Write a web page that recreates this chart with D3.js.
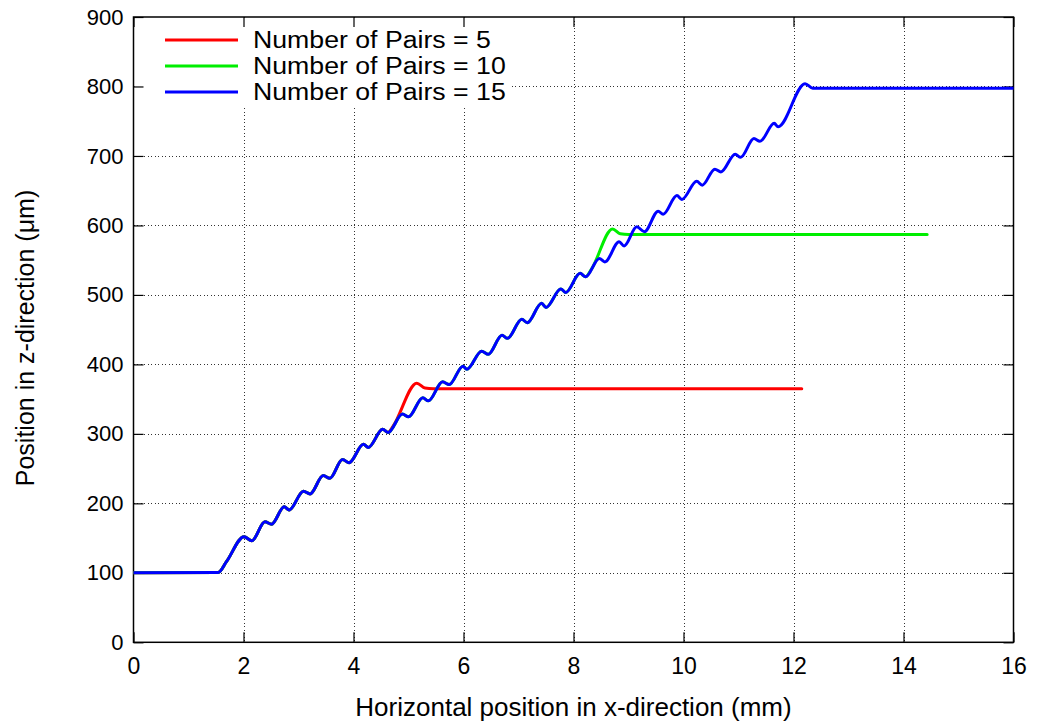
<!DOCTYPE html>
<html>
<head>
<meta charset="utf-8">
<script src="https://cdn.jsdelivr.net/npm/d3@7/dist/d3.min.js"></script>
<style>
  html, body { margin: 0; padding: 0; background: #fff; }
  svg { display: block; font-family: "Liberation Sans", Arial, Helvetica, sans-serif; }
</style>
</head>
<body>
<svg id="chart" width="1037" height="723"></svg>
<script>
// ---- data ----
const xTicks = [0, 2, 4, 6, 8, 10, 12, 14, 16];
const yTicks = [0, 100, 200, 300, 400, 500, 600, 700, 800, 900];
const seriesNames = ["Number of Pairs = 5", "Number of Pairs = 10", "Number of Pairs = 15"];
const seriesColors = ["#ff0000", "#00ee00", "#0000ff"];

const pairs5 = [
  [0,100],[1.54,100.5],[1.69,116],[2.01,152],[2.15,146],[2.39,173.5],[2.51,170],
  [2.74,195],[2.83,190.5],[3.09,217.5],[3.21,213.5],[3.45,240],[3.57,236],
  [3.80,263],[3.92,258.5],[4.18,285],[4.27,280.5],[4.53,306.5],[4.63,302],
  [4.72,311],[5.15,373],[5.30,366],[5.45,365],[8.0,365],[12.15,365]
];
const pairs10 = [
  [0,100],[1.54,100.5],[1.69,116],[2.01,152],[2.15,146],[2.39,173.5],[2.51,170],
  [2.74,195],[2.83,190.5],[3.09,217.5],[3.21,213.5],[3.45,240],[3.57,236],
  [3.80,263],[3.92,258.5],[4.18,285],[4.27,280.5],[4.53,306.5],[4.63,302],
  [4.89,328.5],[5.00,324.5],[5.26,352],[5.36,347.5],[5.62,375],[5.74,371],
  [5.99,397.5],[6.06,393],[6.33,419],[6.45,414.5],[6.70,442],[6.80,437.5],
  [7.06,465],[7.16,460],[7.42,488],[7.50,482],[7.77,508.5],[7.86,503.5],
  [8.12,531],[8.22,526],[8.33,537.5],[8.71,595],[8.85,588],[9.0,587],[14.43,587]
];
const pairs15 = [
  [0,100],[1.54,100.5],[1.69,116],[2.01,152],[2.15,146],[2.39,173.5],[2.51,170],
  [2.74,195],[2.83,190.5],[3.09,217.5],[3.21,213.5],[3.45,240],[3.57,236],
  [3.80,263],[3.92,258.5],[4.18,285],[4.27,280.5],[4.53,306.5],[4.63,302],
  [4.89,328.5],[5.00,324.5],[5.26,352],[5.36,347.5],[5.62,375],[5.74,371],
  [5.99,397.5],[6.06,393],[6.33,419],[6.45,414.5],[6.70,442],[6.80,437.5],
  [7.06,465],[7.16,460],[7.42,488],[7.50,482],[7.77,508.5],[7.86,503.5],
  [8.12,531],[8.22,526],[8.47,552.5],[8.57,547.5],[8.83,576.5],[8.92,570.5],
  [9.15,598],[9.29,591],[9.54,620.5],[9.63,616],[9.88,643],[9.97,637.5],
  [10.24,663.5],[10.34,658],[10.57,681],[10.68,677],[10.94,702.5],[11.04,698],
  [11.28,725],[11.39,721],[11.65,747],[11.72,742],[12.21,804],[12.35,797.5],[16.0,797.5]
];
const seriesData = [pairs5, pairs10, pairs15];

// ---- layout ----
const svg = d3.select("#chart");
const pLeft = 133.5, pRight = 1013.5, pTop = 17, pBottom = 642.3;
const x = d3.scaleLinear().domain([0, 16]).range([pLeft, pRight]);
const y = d3.scaleLinear().domain([0, 900]).range([pBottom, pTop]);
const xTickFont = 23, yTickFont = 22, legendFont = 23, titleFont = 26;

// grid
const grid = svg.append("g").attr("stroke", "#333").attr("stroke-width", 1)
  .attr("stroke-dasharray", "1,2.5").attr("shape-rendering", "crispEdges");
grid.selectAll("line.v").data(xTicks.slice(1, -1)).join("line")
  .attr("x1", d => Math.round(x(d)) + 0.5).attr("x2", d => Math.round(x(d)) + 0.5)
  .attr("y1", pTop).attr("y2", pBottom);
grid.selectAll("line.h").data(yTicks.slice(1, -1)).join("line")
  .attr("y1", d => Math.round(y(d)) + 0.5).attr("y2", d => Math.round(y(d)) + 0.5)
  .attr("x1", pLeft).attr("x2", pRight);

// legend background (covers grid)
svg.append("rect").attr("x", pLeft + 1).attr("y", pTop + 1).attr("width", 376).attr("height", 88).attr("fill", "#fff");

// axes with inward ticks
const tickLen = 10;
const axB = svg.append("g").attr("transform", `translate(0,${pBottom})`)
  .call(d3.axisBottom(x).tickValues(xTicks).tickSize(-tickLen).tickPadding(15.5).tickFormat(d3.format("d")));
const axT = svg.append("g").attr("transform", `translate(0,${pTop})`)
  .call(d3.axisTop(x).tickValues(xTicks).tickSize(-tickLen).tickFormat(""));
const axL = svg.append("g").attr("transform", `translate(${pLeft},0)`)
  .call(d3.axisLeft(y).tickValues(yTicks).tickSize(-tickLen).tickPadding(10).tickFormat(d3.format("d")));
const axR = svg.append("g").attr("transform", `translate(${pRight},0)`)
  .call(d3.axisRight(y).tickValues(yTicks).tickSize(-tickLen).tickFormat(""));
[axB, axT, axL, axR].forEach(a => {
  a.select(".domain").remove();
  a.selectAll(".tick line").attr("stroke", "#000").attr("stroke-width", 1.2);
  a.selectAll("text").attr("font-family", "Liberation Sans, Arial, sans-serif").attr("fill", "#000");
});
axB.selectAll("text").attr("font-size", xTickFont);
axL.selectAll("text").attr("font-size", yTickFont);

// frame
svg.append("rect").attr("x", pLeft).attr("y", pTop).attr("width", pRight - pLeft).attr("height", pBottom - pTop)
  .attr("fill", "none").attr("stroke", "#000").attr("stroke-width", 1.5);

// lines
const line = d3.line().x(d => x(d[0])).y(d => y(d[1])).curve(d3.curveMonotoneX);
svg.append("clipPath").attr("id", "clip").append("rect")
  .attr("x", pLeft).attr("y", pTop).attr("width", pRight - pLeft).attr("height", pBottom - pTop);
svg.append("g").attr("clip-path", "url(#clip)")
  .selectAll("path").data(seriesData).join("path")
  .attr("d", line).attr("fill", "none")
  .attr("stroke", (d, i) => seriesColors[i]).attr("stroke-width", 3)
  .attr("stroke-linejoin", "round").attr("stroke-linecap", "round");

// legend
const legend = svg.append("g");
seriesNames.forEach((name, i) => {
  const ly = 40 + i * 26;
  legend.append("line").attr("x1", 165).attr("x2", 238).attr("y1", ly).attr("y2", ly)
    .attr("stroke", seriesColors[i]).attr("stroke-width", 3);
  legend.append("text").attr("transform", `translate(253,${ly}) scale(1.16,1.05)`).attr("dy", "0.35em")
    .attr("font-size", legendFont).attr("fill", "#000").text(name);
});

// axis titles
svg.append("text").attr("x", (pLeft + pRight) / 2).attr("y", 716).attr("text-anchor", "middle")
  .attr("font-size", titleFont).attr("fill", "#000").text("Horizontal position in x-direction (mm)");
svg.append("text").attr("transform", `translate(34,338) rotate(-90)`)
  .attr("text-anchor", "middle").attr("font-size", 25).attr("fill", "#000")
  .text("Position in z-direction (μm)");
</script>
</body>
</html>
